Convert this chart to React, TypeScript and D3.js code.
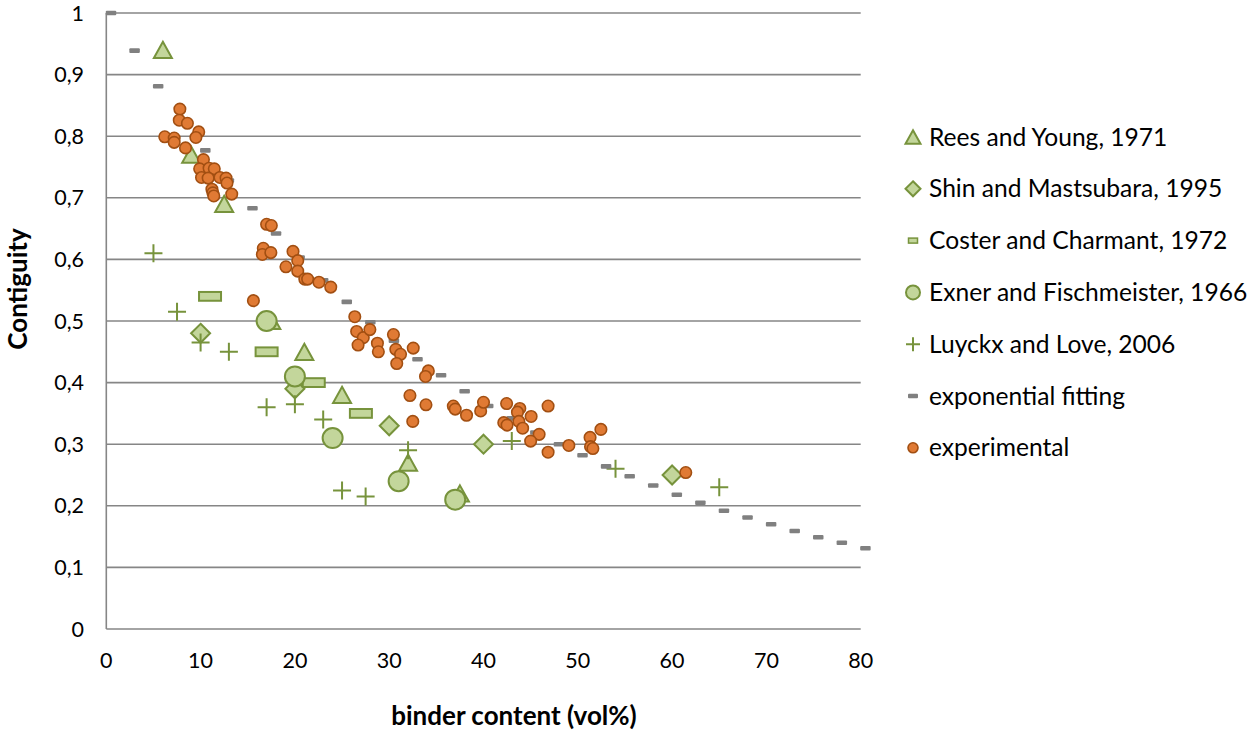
import React, { useRef, useEffect } from "react";
import * as d3 from "d3";

type Pt = [number, number];

// series (binder vol%, contiguity)
const reesYoung: Pt[] = [[6, 0.94], [9, 0.77], [12.5, 0.69], [17.5, 0.5], [21, 0.45], [25, 0.38], [32, 0.27], [37.5, 0.22]];
const shinMatsubara: Pt[] = [[10, 0.48], [20, 0.39], [30, 0.33], [40, 0.3], [60, 0.25]];
const costerCharmant: Pt[] = [[11, 0.54], [17, 0.45], [22, 0.4], [27, 0.35]];
const exnerFischmeister: Pt[] = [[17, 0.5], [20, 0.41], [24, 0.31], [31, 0.24], [37, 0.21]];
const luyckxLove: Pt[] = [
    [5, 0.61], [7.5, 0.515], [10, 0.465], [13, 0.45], [17, 0.36], [20, 0.365], [23, 0.34],
    [25, 0.225], [27.5, 0.215], [32, 0.29], [43, 0.305], [54, 0.26], [65, 0.23],
];
const fitX = [0.5, 3, 5.5, 8, 10.5, 13, 15.5, 18, 20.5, 23, 25.5, 28, 30.5, 33, 35.5, 38, 40.5, 43, 45.5, 48, 50.5, 53, 55.5, 58, 60.5, 63, 65.5, 68, 70.5, 73, 75.5, 78, 80.5];
const fitY = [1.0, 0.939, 0.881, 0.826, 0.777, 0.728, 0.683, 0.642, 0.603, 0.566, 0.531, 0.498, 0.468, 0.438, 0.412, 0.386, 0.362, 0.342, 0.319, 0.3, 0.282, 0.264, 0.248, 0.233, 0.218, 0.205, 0.192, 0.181, 0.17, 0.159, 0.149, 0.14, 0.131];
const experimental: Pt[] = [
    [7.8, 0.844], [7.74, 0.826], [8.6, 0.821], [9.8, 0.807], [9.5, 0.798], [6.2, 0.799], [7.2, 0.797], [7.2, 0.79],
    [8.4, 0.781], [10.3, 0.762], [9.9, 0.747], [10.9, 0.748], [11.45, 0.747], [10.1, 0.733], [10.8, 0.732],
    [12.05, 0.733], [12.7, 0.732], [12.8, 0.724], [11.2, 0.714], [11.3, 0.708], [11.4, 0.703], [13.3, 0.706],
    [17.0, 0.657], [17.5, 0.655], [16.65, 0.618], [16.55, 0.608], [17.45, 0.611], [19.8, 0.613], [20.3, 0.598],
    [19.05, 0.588], [20.3, 0.581], [21.05, 0.568], [21.35, 0.568], [22.55, 0.563], [23.8, 0.555], [15.6, 0.533],
    [26.35, 0.507], [26.55, 0.483], [27.25, 0.473], [27.95, 0.486], [26.7, 0.461], [28.75, 0.464], [28.85, 0.45],
    [30.45, 0.478], [30.7, 0.454], [31.2, 0.446], [30.8, 0.431], [32.55, 0.456], [34.15, 0.419], [33.85, 0.41],
    [32.2, 0.379], [32.5, 0.337], [33.9, 0.364], [36.8, 0.362], [37.0, 0.357], [38.2, 0.347], [39.7, 0.354],
    [40.0, 0.368], [42.45, 0.366], [43.85, 0.358], [43.6, 0.352], [42.15, 0.335], [42.5, 0.331], [43.75, 0.337],
    [44.15, 0.326], [45.05, 0.345], [45.9, 0.316], [45.0, 0.305], [46.85, 0.362], [46.85, 0.287], [49.05, 0.298],
    [51.3, 0.311], [51.35, 0.296], [51.6, 0.293], [52.45, 0.324], [61.45, 0.254],
];
const xTicks = [0, 10, 20, 30, 40, 50, 60, 70, 80];
const yTicks = [0, 0.1, 0.2, 0.3, 0.4, 0.5, 0.6, 0.7, 0.8, 0.9, 1];
const legendLabels = [
    "Rees and Young, 1971",
    "Shin and Mastsubara, 1995",
    "Coster and Charmant, 1972",
    "Exner and Fischmeister, 1966",
    "Luyckx and Love, 2006",
    "exponential fitting",
    "experimental",
];

const GREEN_FILL = "#c3d69b";
const GREEN_LINE = "#77933c";
const ORANGE_FILL = "#e07a34";
const ORANGE_LINE = "#a24f12";
const GRAY = "#808080";
const FONT = "Lato, 'Noto Sans', sans-serif";

const W = 1259;
const H = 731;

// marker drawers: (g, cx, cy, size)
type Drawer = (g: d3.Selection<SVGGElement, unknown, null, undefined>, x: number, y: number, s: number) => void;

const triangle: Drawer = (g, x, y, s) => {
    const h = s * 0.9;
    g.append("path")
        .attr("d", `M${x},${y - h / 2}L${x + s / 2},${y + h / 2}L${x - s / 2},${y + h / 2}Z`)
        .attr("fill", GREEN_FILL).attr("stroke", GREEN_LINE).attr("stroke-width", 2);
};
const diamond: Drawer = (g, x, y, s) => {
    const r = s / 2;
    g.append("path")
        .attr("d", `M${x},${y - r}L${x + r},${y}L${x},${y + r}L${x - r},${y}Z`)
        .attr("fill", GREEN_FILL).attr("stroke", GREEN_LINE).attr("stroke-width", 2);
};
const bar: Drawer = (g, x, y, s) => {
    g.append("rect")
        .attr("x", x - s / 2).attr("y", y - s * 0.2).attr("width", s).attr("height", s * 0.4)
        .attr("fill", GREEN_FILL).attr("stroke", GREEN_LINE).attr("stroke-width", 2);
};
const bigCircle: Drawer = (g, x, y, s) => {
    g.append("circle").attr("cx", x).attr("cy", y).attr("r", s / 2)
        .attr("fill", GREEN_FILL).attr("stroke", GREEN_LINE).attr("stroke-width", 2);
};
const cross: Drawer = (g, x, y, s) => {
    const r = s / 2;
    g.append("path")
        .attr("d", `M${x - r},${y}H${x + r}M${x},${y - r}V${y + r}`)
        .attr("stroke", GREEN_LINE).attr("stroke-width", 2).attr("fill", "none");
};
const dash: Drawer = (g, x, y, s) => {
    g.append("rect")
        .attr("x", x - s / 2).attr("y", y - 2.3).attr("width", s).attr("height", 4.6).attr("rx", 1)
        .attr("fill", GRAY);
};
const dot: Drawer = (g, x, y, s) => {
    g.append("circle").attr("cx", x).attr("cy", y).attr("r", s / 2)
        .attr("fill", ORANGE_FILL).attr("stroke", ORANGE_LINE).attr("stroke-width", 1.6);
};

const App: React.FC = () => {
    const svgRef = useRef<SVGSVGElement | null>(null);

    useEffect(() => {
        if (!svgRef.current) return;
        const svg = d3.select(svgRef.current);
        svg.selectAll("*").remove();

        const x = d3.scaleLinear().domain([0, 80]).range([106.3, 860.7]);
        const y = d3.scaleLinear().domain([0, 1]).range([629, 13]);

        // gridlines
        const grid = svg.append("g");
        grid.selectAll("line")
            .data(yTicks)
            .enter()
            .append("line")
            .attr("x1", x(0)).attr("x2", x(80))
            .attr("y1", (d) => y(d)).attr("y2", (d) => y(d))
            .attr("stroke", "#868686").attr("stroke-width", 1.6);
        grid.append("line")
            .attr("x1", x(0)).attr("x2", x(0)).attr("y1", y(0)).attr("y2", y(1))
            .attr("stroke", "#868686").attr("stroke-width", 1.6);

        // tick labels
        svg.append("g").selectAll("text")
            .data(yTicks)
            .enter()
            .append("text")
            .attr("x", 84).attr("y", (d) => y(d)).attr("dy", "0.35em")
            .attr("text-anchor", "end")
            .attr("font-family", FONT).attr("font-size", 21.5).attr("fill", "#000")
            .text((d) => (d === 0 || d === 1 ? String(d) : d3.format(".1f")(d).replace(".", ",")));
        svg.append("g").selectAll("text")
            .data(xTicks)
            .enter()
            .append("text")
            .attr("x", (d) => x(d)).attr("y", 660).attr("dy", "0.35em")
            .attr("text-anchor", "middle")
            .attr("font-family", FONT).attr("font-size", 21.5).attr("fill", "#000")
            .text((d) => String(d));

        // axis titles
        svg.append("text")
            .attr("transform", "translate(18,289) rotate(-90)")
            .attr("dy", "0.35em").attr("text-anchor", "middle")
            .attr("font-family", FONT).attr("font-weight", "bold").attr("font-size", 26)
            .text("Contiguity");
        svg.append("text")
            .attr("x", 514).attr("y", 716).attr("dy", "0.35em").attr("text-anchor", "middle")
            .attr("font-family", FONT).attr("font-weight", "bold").attr("font-size", 26)
            .text("binder content (vol%)");

        // series
        const marks = svg.append("g");
        const plot = (data: Pt[], draw: Drawer, s: number) => {
            data.forEach(([a, b]) => draw(marks, x(a), y(b), s));
        };
        plot(reesYoung, triangle, 18);
        plot(shinMatsubara, diamond, 19);
        plot(costerCharmant, bar, 22);
        plot(exnerFischmeister, bigCircle, 20);
        plot(luyckxLove, cross, 18);
        plot(d3.zip(fitX, fitY) as Pt[], dash, 10.5);
        plot(experimental, dot, 11.5);

        // legend
        const legendDraw: [Drawer, number][] = [
            [triangle, 15], [diamond, 15], [(g, a, b) => {
                g.append("rect").attr("x", a - 4.5).attr("y", b - 2.5).attr("width", 9).attr("height", 5)
                    .attr("fill", GREEN_FILL).attr("stroke", GREEN_LINE).attr("stroke-width", 1.5);
            }, 9], [bigCircle, 14], [cross, 14],
            [(g, a, b) => {
                g.append("rect").attr("x", a - 5).attr("y", b - 2.2).attr("width", 10).attr("height", 4.4).attr("rx", 1).attr("fill", GRAY);
            }, 10],
            [dot, 10],
        ];
        const legend = svg.append("g");
        legendLabels.forEach((label, i) => {
            const ly = 137 + i * 51.8;
            const [draw, s] = legendDraw[i];
            draw(legend, 913, ly, s);
            legend.append("text")
                .attr("x", 929).attr("y", ly).attr("dy", "0.35em")
                .attr("font-family", FONT).attr("font-size", 24.6).attr("fill", "#000")
                .text(label);
        });
    }, []);

    return (
        <svg
            ref={svgRef}
            width={W}
            height={H}
            style={{ position: "absolute", left: 0, top: 0, background: "#fff" }}
        ></svg>
    );
};

export default App;
